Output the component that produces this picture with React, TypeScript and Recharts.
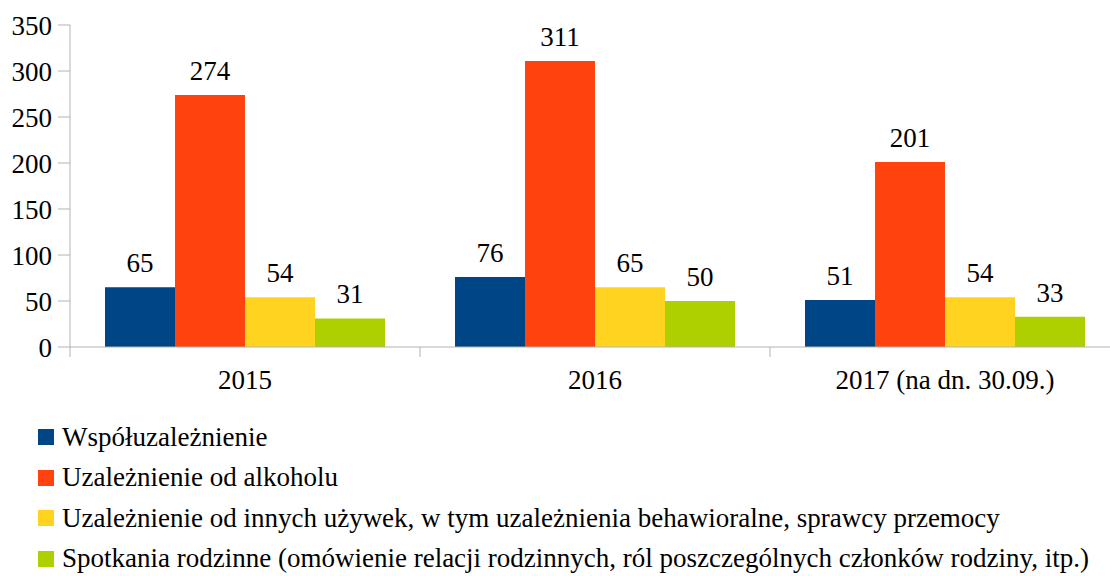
import React from 'react';
import { BarChart, Bar, XAxis, YAxis, Legend, LabelList } from 'recharts';

const years = ['2015', '2016', '2017 (na dn. 30.09.)'];
const wspoluzaleznienie = [65, 76, 51];
const alkohol = [274, 311, 201];
const inneUzywki = [54, 65, 54];
const spotkania = [31, 50, 33];
const yTicks = [0, 50, 100, 150, 200, 250, 300, 350];

const seriesNames = [
  'Współuzależnienie',
  'Uzależnienie od alkoholu',
  'Uzależnienie od innych używek, w tym uzależnienia behawioralne, sprawcy przemocy',
  'Spotkania rodzinne (omówienie relacji rodzinnych, ról poszczególnych członków rodziny, itp.)',
];
const seriesColors = ['#004586', '#ff420e', '#ffd320', '#aecf00'];

const data = years.map((year, i) => ({
  year,
  s0: wspoluzaleznienie[i],
  s1: alkohol[i],
  s2: inneUzywki[i],
  s3: spotkania[i],
}));

const FONT = '"Liberation Serif", "Times New Roman", serif';
const AXIS = '#b3b3b3';
const FS = 27;

const CategoryTick = (props) => {
  const { x, y, payload, index } = props;
  const half = payload && payload.offset ? payload.offset : 175;
  return (
    <g>
      <line x1={x - half} y1={y - 8} x2={x - half} y2={y + 2} stroke={AXIS} />
      {index === years.length - 1 && (
        <line x1={x + half} y1={y - 8} x2={x + half} y2={y + 2} stroke={AXIS} />
      )}
      <text x={x} y={y + 34} textAnchor="middle" fontFamily={FONT} fontSize={FS} fill="#000">
        {payload.value}
      </text>
    </g>
  );
};

const LegendList = () => (
  <div style={{ fontFamily: FONT, fontSize: FS, color: '#000', lineHeight: 1 }}>
    {seriesNames.map((name, i) => (
      <div key={name} style={{ display: 'flex', alignItems: 'center', height: 40.5, whiteSpace: 'nowrap' }}>
        <span
          style={{
            display: 'inline-block',
            flex: 'none',
            width: 16,
            height: 16,
            background: seriesColors[i],
            marginRight: 8,
          }}
        />
        <span>{name}</span>
      </div>
    ))}
  </div>
);

export default function App() {
  return (
    <div style={{ position: 'absolute', left: 0, top: 0, width: 1110, height: 576, overflow: 'hidden', background: '#fff' }}>
      <BarChart
        width={1110}
        height={576}
        data={data}
        margin={{ top: 25, right: -10, bottom: 0, left: 0 }}
        barGap={0}
        barCategoryGap="10%"
      >
        <YAxis
          domain={[0, 350]}
          ticks={yTicks}
          width={70}
          tickSize={12}
          tickMargin={6}
          stroke={AXIS}
          tick={{ fill: '#000', fontFamily: FONT, fontSize: FS }}
          interval={0}
        />
        <XAxis
          dataKey="year"
          height={67}
          stroke={AXIS}
          tickLine={false}
          tick={<CategoryTick />}
          interval={0}
        />
        <Legend
          verticalAlign="bottom"
          content={<LegendList />}
          wrapperStyle={{ position: 'absolute', left: 38, top: 417, width: 1070, height: 162, bottom: 'auto' }}
        />
        {seriesNames.map((name, i) => (
          <Bar key={name} dataKey={'s' + i} name={name} fill={seriesColors[i]} isAnimationActive={false}>
            <LabelList
              dataKey={'s' + i}
              position="top"
              offset={15}
              fill="#000"
              fontFamily={FONT}
              fontSize={FS}
            />
          </Bar>
        ))}
      </BarChart>
    </div>
  );
}
